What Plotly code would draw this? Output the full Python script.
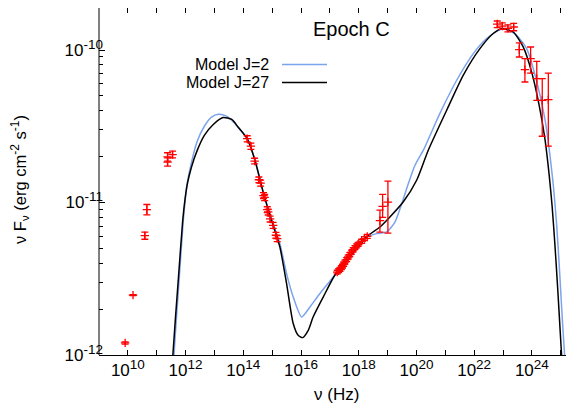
import numpy as np
import plotly.graph_objects as go

# ---------------- data ----------------
# Model curves: log10(nu / Hz), log10(nu F_nu / erg cm^-2 s^-1)
j27_log_nu = [11.50, 11.56, 11.75, 11.90, 11.98, 12.06, 12.20, 12.40, 12.65, 12.95, 13.30, 13.60,
              13.82, 14.135, 14.40, 14.70, 15.00, 15.268, 15.50, 15.73, 15.90, 16.055, 16.25,
              16.42, 16.77, 17.17, 17.69, 18.295, 18.735, 19.08, 19.54, 20.007, 20.41, 21.047,
              21.62, 22.20, 22.66, 22.95, 23.355, 23.70, 24.00, 24.25, 24.45, 24.60, 24.70,
              24.80, 24.90, 24.98, 25.06, 25.14]
j27_log_f = [-12.3, -12.0, -11.50, -11.12, -10.98, -10.88, -10.77, -10.66, -10.56, -10.49, -10.443,
             -10.455, -10.505, -10.581, -10.72, -10.94, -11.13, -11.292, -11.532, -11.794, -11.871,
             -11.886, -11.838, -11.751, -11.62, -11.477, -11.357, -11.222, -11.161, -11.095,
             -10.997, -10.854, -10.657, -10.395, -10.166, -9.991, -9.892, -9.860, -9.882, -9.98,
             -10.15, -10.36, -10.58, -10.82, -11.02, -11.28, -11.58, -11.84, -12.10, -12.40]

j2_log_nu = [11.55, 11.60, 11.78, 11.92, 11.99, 12.06, 12.20, 12.40, 12.65, 12.90, 13.13, 13.40,
             13.65, 13.85, 14.135, 14.40, 14.70, 15.00, 15.268, 15.50, 15.73, 16.02, 16.31,
             16.655, 17.12, 17.69, 18.295, 18.62, 18.97, 19.255, 19.49, 19.72, 19.95, 20.24,
             20.81, 21.39, 21.97, 22.43, 22.84, 23.00, 23.41, 23.82, 24.16, 24.45, 24.62, 24.75,
             24.86, 24.96, 25.06, 25.15, 25.22]
j2_log_f = [-12.3, -12.0, -11.50, -11.12, -10.98, -10.87, -10.74, -10.60, -10.50, -10.44, -10.422,
            -10.432, -10.47, -10.515, -10.581, -10.72, -10.94, -11.12, -11.27, -11.466, -11.62,
            -11.751, -11.685, -11.597, -11.489, -11.36, -11.225, -11.204, -11.193, -11.128,
            -11.007, -10.876, -10.756, -10.657, -10.417, -10.20, -10.024, -9.925, -9.871, -9.86,
            -9.892, -9.991, -10.20, -10.45, -10.68, -10.90, -11.15, -11.45, -11.78, -12.05, -12.3]

# Observed points: nu (Hz), nuFnu, lower and upper bounds
obs_nu = [8.05e9, 1.51e10, 3.88e10, 4.56e10, 2.38e11, 2.38e11, 3.54e11,
          1.365e14, 1.832e14, 2.466e14, 3.467e14, 3.98e14, 5.01e14, 5.50e14, 6.76e14,
          7.29e14, 8.51e14, 1.087e15, 1.349e15, 1.496e15,
          1.80e17, 2.0e17, 2.24e17, 2.51e17, 2.75e17, 3.02e17, 3.31e17, 3.80e17, 4.33e17,
          4.90e17, 5.62e17, 6.46e17, 7.41e17, 8.51e17, 9.55e17, 1.26e18, 1.58e18, 1.97e18,
          5.43e18, 6.73e18, 1.028e19,
          6.31e22, 9.42e22, 1.479e23, 2.34e23, 3.67e23, 5.75e23, 9.04e23, 1.479e24,
          2.29e24, 3.72e24]
obs_f = [1.2e-12, 2.47e-12, 6.06e-12, 8.97e-12, 1.99e-11, 1.84e-11, 2.06e-11,
         2.62e-11, 2.34e-11, 1.87e-11, 1.41e-11, 1.34e-11, 1.11e-11, 1.08e-11, 8.98e-12,
         8.67e-12, 7.8e-12, 7.09e-12, 6.1e-12, 5.8e-12,
         3.5e-12, 3.57e-12, 3.65e-12, 3.74e-12, 3.82e-12, 3.95e-12, 4.07e-12, 4.22e-12, 4.39e-12,
         4.55e-12, 4.73e-12, 4.90e-12, 5.06e-12, 5.2e-12, 5.32e-12, 5.57e-12, 5.80e-12, 6.0e-12,
         7.6e-12, 9.44e-12, 1.007e-11,
         1.48e-10, 1.436e-10, 1.387e-10, 1.415e-10, 1.007e-10, 7.44e-11, 8.78e-11, 6.49e-11,
         4.68e-11, 4.73e-11]
obs_lo = [1.18e-12, 2.45e-12, 5.74e-12, 8.29e-12, 1.87e-11, 1.73e-11, 1.96e-11,
          2.50e-11, 2.23e-11, 1.79e-11, 1.35e-11, 1.28e-11, 1.06e-11, 1.03e-11, 8.58e-12,
          8.28e-12, 7.45e-12, 6.77e-12, 5.83e-12, 5.54e-12,
          3.40e-12, 3.47e-12, 3.54e-12, 3.63e-12, 3.71e-12, 3.83e-12, 3.95e-12, 4.09e-12, 4.26e-12,
          4.41e-12, 4.59e-12, 4.75e-12, 4.91e-12, 5.04e-12, 5.16e-12, 5.40e-12, 5.63e-12, 5.82e-12,
          6.4e-12, 8.0e-12, 6.3e-12,
          1.403e-10, 1.367e-10, 1.316e-10, 1.337e-10, 8.995e-11, 6.17e-11, 7.06e-11, 4.68e-11,
          2.72e-11, 2.34e-11]
obs_hi = [1.22e-12, 2.49e-12, 6.40e-12, 9.70e-12, 2.12e-11, 1.96e-11, 2.17e-11,
          2.74e-11, 2.45e-11, 1.95e-11, 1.47e-11, 1.40e-11, 1.16e-11, 1.13e-11, 9.38e-12,
          9.06e-12, 8.15e-12, 7.41e-12, 6.37e-12, 6.06e-12,
          3.60e-12, 3.67e-12, 3.76e-12, 3.85e-12, 3.93e-12, 4.07e-12, 4.19e-12, 4.35e-12, 4.52e-12,
          4.69e-12, 4.87e-12, 5.05e-12, 5.21e-12, 5.36e-12, 5.48e-12, 5.74e-12, 5.97e-12, 6.18e-12,
          8.9e-12, 1.13e-11, 1.38e-11,
          1.549e-10, 1.507e-10, 1.463e-10, 1.497e-10, 1.112e-10, 8.78e-11, 1.046e-10, 8.43e-11,
          6.49e-11, 7.06e-11]

x_label_exp = [10, 12, 14, 16, 18, 20, 22, 24]
x_minor_exp = [9, 11, 13, 15, 17, 19, 21, 23, 25]
y_tick_exp = [-12, -11, -10]
legend_labels = ["Model J=2", "Model J=27"]
epoch_label = "Epoch C"

# ---------------- figure ----------------
# The page body adds an 8 px offset; the figure is sized/margined to compensate.
FONT = "Liberation Sans, Arial, sans-serif"
BLUE = "#7ba3ee"
PL, PR_W, PH = 99, 475, 347   # plot-area left (screen px), width, height


def px_x(sx):
    return (sx - PL) / PR_W


def px_y(sy):
    return (355 - sy) / PH


def sup(s, size=13.5):
    return f"<sup><span style='font-size:{size}px'>{s}</span></sup>"


fig = go.Figure()
fig.add_trace(go.Scatter(x=10 ** np.array(j2_log_nu), y=10 ** np.array(j2_log_f), mode="lines",
                         line=dict(color=BLUE, width=1.5, shape="spline", smoothing=0.6),
                         name=legend_labels[0], showlegend=False))
fig.add_trace(go.Scatter(x=10 ** np.array(j27_log_nu), y=10 ** np.array(j27_log_f), mode="lines",
                         line=dict(color="black", width=1.5, shape="spline", smoothing=0.6),
                         name=legend_labels[1], showlegend=False))

f = np.array(obs_f)
fig.add_trace(go.Scatter(
    x=obs_nu, y=obs_f, mode="markers", showlegend=False,
    marker=dict(symbol="cross-thin", size=6, color="red", line=dict(color="red", width=1.3)),
    error_y=dict(type="data", symmetric=False, array=np.array(obs_hi) - f,
                 arrayminus=f - np.array(obs_lo), color="red", thickness=1.3, width=3.5)))

xt_vals = [10.0 ** e for e in x_label_exp]
xt_text = ["10" + sup(e) for e in x_label_exp]
xm_vals = [10.0 ** e for e in x_minor_exp]
yt_vals = [10.0 ** e for e in y_tick_exp]
yt_text = ["10" + sup(e) for e in y_tick_exp]
y_minor = [k * 10.0 ** e for e in [-12, -11, -10] for k in range(2, 10)]

fig.update_layout(
    width=566, height=398,
    margin=dict(l=91, r=0, t=0, b=51),
    paper_bgcolor="white", plot_bgcolor="white",
    font=dict(family=FONT, size=17, color="black"),
    xaxis=dict(type="log", range=[9, 25.46], tickvals=xt_vals, ticktext=xt_text,
               ticks="inside", ticklen=5, tickcolor="black", tickwidth=1,
               minor=dict(tickvals=xm_vals, ticks="inside", ticklen=5, tickcolor="black"),
               showline=True, linecolor="black", linewidth=1, mirror="allticks",
               showgrid=False, zeroline=False, tickfont=dict(size=17)),
    yaxis=dict(type="log", range=[-12, -12 + PH / 152.5], tickvals=yt_vals, ticktext=yt_text,
               ticks="inside", ticklen=6, tickcolor="black", tickwidth=1,
               minor=dict(tickvals=y_minor, ticks="inside", ticklen=3.5, tickcolor="black"),
               showline=False, mirror="allticks", ticklabelstandoff=-5,
               showgrid=False, zeroline=False, tickfont=dict(size=17)),
)

# left frame line (right edge of the frame lies outside the picture)
fig.add_shape(type="line", xref="paper", yref="paper", x0=0, x1=0, y0=0, y1=1,
              line=dict(color="black", width=1))

# axis titles
fig.add_annotation(text="ν (Hz)", xref="paper", yref="paper", x=px_x(336), y=px_y(394),
                   showarrow=False, xanchor="center", yanchor="middle", font=dict(size=17))
fig.add_annotation(text="ν F<sub>ν</sub> (erg cm" + sup("-2", 12) + " s" + sup("-1", 12) + ")",
                   xref="paper", yref="paper", x=px_x(19), y=px_y(180), textangle=-90,
                   showarrow=False, xanchor="center", yanchor="middle", font=dict(size=16.5))

# epoch label
fig.add_annotation(text=epoch_label, xref="paper", yref="paper", x=px_x(351.7), y=px_y(29),
                   showarrow=False, xanchor="center", yanchor="middle", font=dict(size=20))

# legend (gnuplot style: text then sample line)
for lab, col, sy in zip(legend_labels, [BLUE, "black"], [64.5, 82.5]):
    fig.add_annotation(text=lab, xref="paper", yref="paper", x=px_x(271), y=px_y(sy),
                       showarrow=False, xanchor="right", yanchor="middle",
                       font=dict(size=16))
    fig.add_shape(type="line", xref="paper", yref="paper", x0=px_x(282), x1=px_x(327),
                  y0=px_y(sy), y1=px_y(sy), line=dict(color=col, width=1.5))

fig.write_html("out.html")
